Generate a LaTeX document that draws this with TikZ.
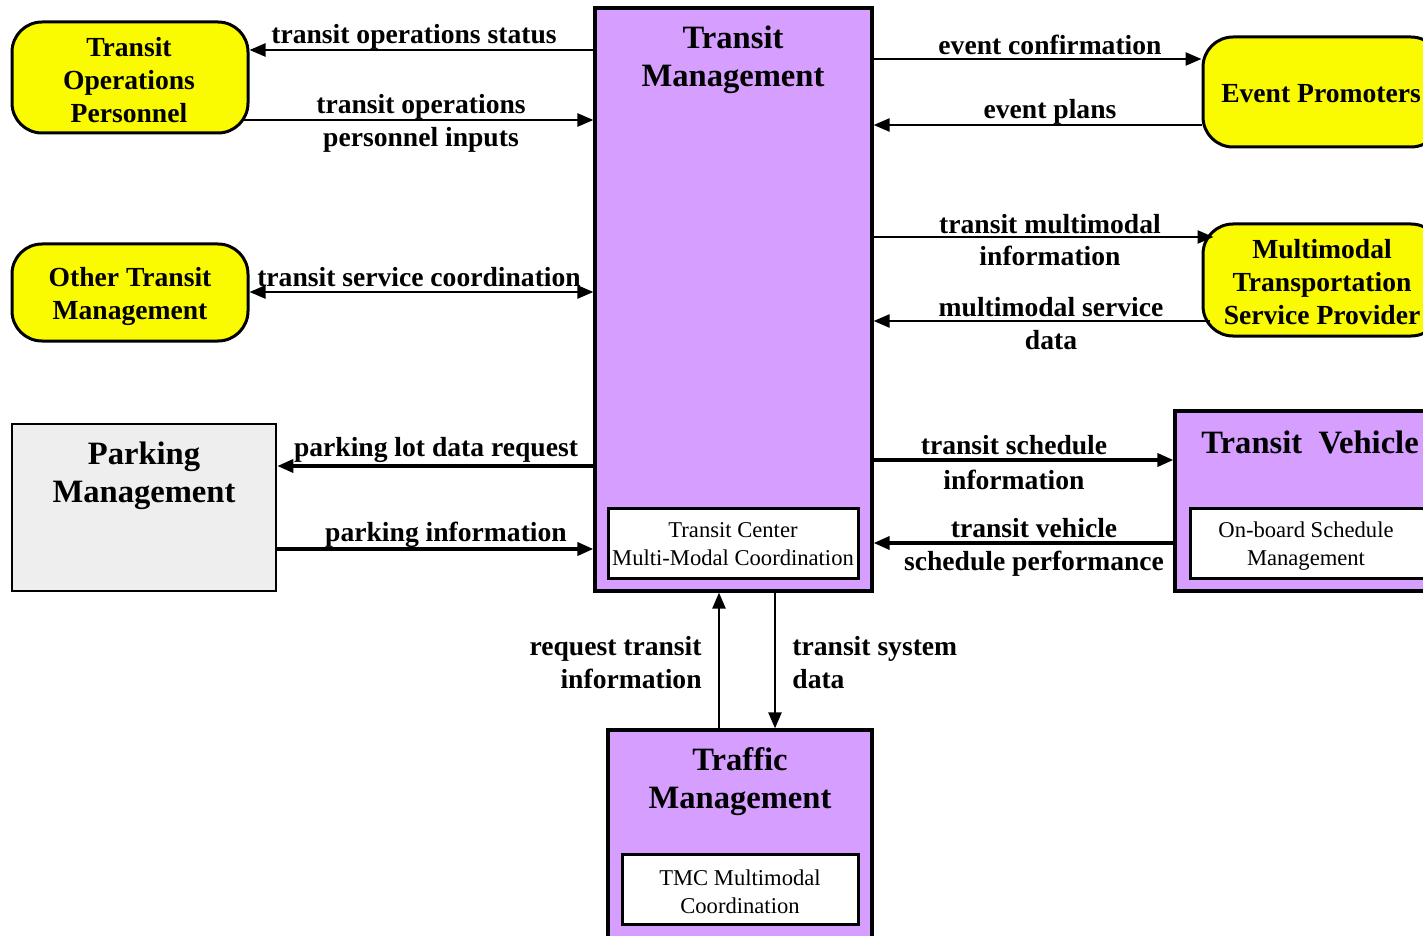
\documentclass[tikz,border=0pt]{standalone}
\usepackage{fontspec}
\setmainfont{Liberation Serif}
\usetikzlibrary{arrows.meta,fit}
\definecolor{centerpurple}{RGB}{213,158,255}
\definecolor{termyellow}{RGB}{250,250,0}
\definecolor{parkgray}{RGB}{238,238,238}
\tikzset{
  lbl/.style={font=\bfseries\fontsize{13.8}{16.5}\selectfont, inner sep=0pt, align=center},
  bigtitle/.style={font=\bfseries\fontsize{16.3}{19}\selectfont, inner sep=0pt, align=center},
  subtext/.style={font=\fontsize{11.3}{14}\selectfont, inner sep=0pt, align=center},
  term/.style={draw, line width=1.5pt, fill=termyellow, rounded corners=15pt, inner sep=0pt,
    font=\bfseries\fontsize{13.8}{16.5}\selectfont, align=center},
  center/.style={draw, line width=1.6pt, fill=centerpurple, inner sep=0pt},
  subbox/.style={draw, line width=1.5pt, fill=white, inner sep=0pt},
  parkbox/.style={draw, line width=1.3pt, fill=parkgray, inner sep=0pt},
  flow/.style={line width=1.2pt, -{Triangle[length=8pt,width=6.5pt]}},
  heavyflow/.style={line width=1.7pt, -{Triangle[length=8pt,width=6.5pt]}},
  bothflow/.style={line width=1.2pt, {Triangle[length=8pt,width=6.5pt]}-{Triangle[length=8pt,width=6.5pt]}}
}
\begin{document}
\begin{tikzpicture}[x=0.5pt,y=-0.5pt]
\useasboundingbox (0,0) rectangle (1423,936);
\clip (0,0) rectangle (1423,936);

% central subsystem
\node[center, fit={(595,8)(872,591)}] (tm) {};
\node[bigtitle] at (733,60) {Transit\\Management};
\node[subbox, fit={(608,508)(858,578)}] (tcmm) {};
\node[subtext] at (733,544) {Transit Center\\Multi-Modal Coordination};

% terminators on the left
\node[term, fit={(12,22)(248,133)}] (top) {};
\node[lbl] at (129,80) {Transit\\Operations\\Personnel};
\node[term, fit={(12,244)(248,341)}] (otm) {};
\node[lbl] at (130,296) {Other Transit\\Management};
\node[parkbox, fit={(12,424)(276,591)}] (pm) {};
\node[bigtitle] at (144,476) {Parking\\Management};

% terminators on the right
\node[term, fit={(1203,37)(1441,147)}] (ep) {};
\node[lbl] at (1321,94) {Event Promoters};
\node[term, fit={(1203,224)(1441,336)}] (mtsp) {};
\node[lbl] at (1322,282) {Multimodal\\Transportation\\Service Provider};
\node[center, fit={(1175,411)(1445,591)}] (tv) {};
\node[bigtitle, anchor=west] at (1201,442) {Transit\ \ Vehicle};
\node[subbox, fit={(1190,508)(1432,578)}] (obsm) {};
\node[subtext] at (1306,546) {On-board Schedule\\Management};

% traffic management below
\node[center, fit={(608,730)(872,960)}] (trm) {};
\node[bigtitle] at (740,782) {Traffic\\Management};
\node[subbox, fit={(622,854)(858,924)}] (tmcmm) {};
\node[subtext] at (740,892) {TMC Multimodal\\Coordination};

% flows, left side
\draw[flow] (tm.west |- 0,50) -- (top.east |- 0,50);
\node[lbl] at (414,37) {transit operations status};
\draw[flow] ([xshift=-4pt]top.east |- 0,120) -- (tm.west |- 0,120);
\node[lbl] at (421,107) {transit operations};
\node[lbl] at (421,140) {personnel inputs};
\draw[bothflow] (otm.east |- 0,292) -- (tm.west |- 0,292);
\node[lbl] at (419,277) {transit service coordination};
\draw[heavyflow] (tm.west |- 0,466) -- (pm.east |- 0,466);
\node[lbl] at (436,450) {parking lot data request};
\draw[heavyflow] (pm.east |- 0,549) -- (tm.west |- 0,549);
\node[lbl] at (446,535) {parking information};

% flows, right side
\draw[flow] (tm.east |- 0,59) -- (ep.west |- 0,59);
\node[lbl] at (1050,45) {event confirmation};
\draw[flow] (ep.west |- 0,125) -- (tm.east |- 0,125);
\node[lbl] at (1050,112) {event plans};
\draw[flow] (tm.east |- 0,237) -- ([xshift=6pt]mtsp.west |- 0,237);
\node[lbl] at (1050,224) {transit multimodal};
\node[lbl] at (1050,256) {information};
\draw[flow] ([xshift=4pt]mtsp.west |- 0,321) -- (tm.east |- 0,321);
\node[lbl] at (1051,307) {multimodal service};
\node[lbl] at (1051,340) {data};
\draw[heavyflow] (tm.east |- 0,460) -- (tv.west |- 0,460);
\node[lbl] at (1014,445) {transit schedule};
\node[lbl] at (1014,480) {information};
\draw[heavyflow] (tv.west |- 0,543) -- (tm.east |- 0,543);
\node[lbl] at (1034,528) {transit vehicle};
\node[lbl] at (1034,564) {schedule performance};

% flows, below
\draw[flow] (trm.north -| 719,0) -- (tm.south -| 719,0);
\node[lbl, align=right, anchor=east] at (702,663) {request transit\\information};
\draw[flow] (tm.south -| 775,0) -- (trm.north -| 775,0);
\node[lbl, align=left, anchor=west] at (792,663) {transit system\\data};
\end{tikzpicture}
\end{document}
